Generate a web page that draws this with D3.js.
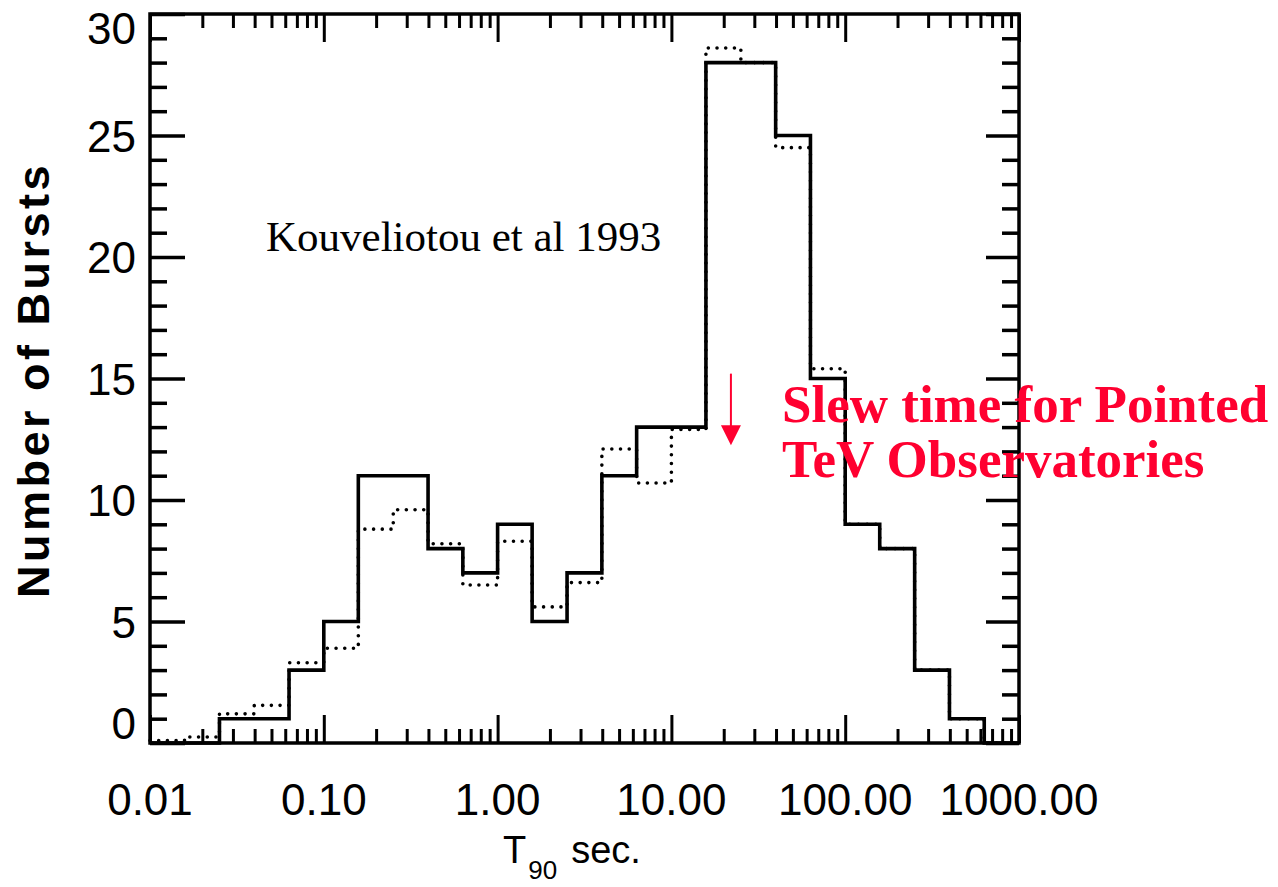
<!DOCTYPE html>
<html>
<head>
<meta charset="utf-8">
<script src="https://cdn.jsdelivr.net/npm/d3@7"></script>
<style>
  html, body { margin: 0; padding: 0; background: #fff; }
  svg { display: block; }
</style>
</head>
<body>
<svg id="chart" width="1278" height="887"></svg>
<script>
// ---- data ----
const binEdges = [0.01, 0.0158, 0.0251, 0.0398, 0.0631, 0.1, 0.158, 0.251, 0.398, 0.631,
                  1, 1.58, 2.51, 3.98, 6.31, 10, 15.8, 25.1, 39.8, 63.1,
                  100, 158, 251, 398, 631, 1000];
const solidCounts  = [0, 0, 1, 1, 3, 5, 11, 11, 8, 7, 9, 5, 7, 11, 13, 13, 28, 28, 25, 15, 9, 8, 3, 1, 0];
const dottedCounts = [0.1, 0.25, 1.2, 1.55, 3.3, 3.9, 8.8, 9.6, 8.2, 6.5, 8.3, 5.6, 6.6, 12.1, 10.7, 12.9, 28.6, 28.0, 24.5, 15.4, 9, 8, 3, 1, 0];
const xTickValues = [0.01, 0.1, 1, 10, 100, 1000];
const xTickLabels = ["0.01", "0.10", "1.00", "10.00", "100.00", "1000.00"];
const yTickValues = [0, 5, 10, 15, 20, 25, 30];
const yTickLabels = ["0", "5", "10", "15", "20", "25", "30"];
const citation = "Kouveliotou et al 1993";
const slewLines = ["Slew time for Pointed", "TeV Observatories"];
const slewTime = 22;          // seconds, where the arrow points
const arrowRange = [15.2, 12.25];

// ---- layout ----
const svg = d3.select("#chart");
const L = 150, R = 1019, T = 14, B = 743;
const x = d3.scaleLog().domain([0.01, 1000]).range([L, R]);
const y = d3.scaleLinear().domain([0, 30]).range([B, T]);

const minorX = [];
for (let e = -2; e < 3; e++) for (let m = 2; m <= 9; m++) minorX.push(m * Math.pow(10, e));
const minorY = d3.range(0, 31, 1).filter(v => v % 5 !== 0);

function styleAxis(g, w) {
  g.select(".domain").remove();
  g.selectAll(".tick line").attr("stroke", "#000").attr("stroke-width", w);
  g.selectAll(".tick text").remove();
}
const axes = svg.append("g");
axes.append("g").attr("transform", `translate(0,${B})`)
  .call(d3.axisBottom(x).tickValues(xTickValues).tickSize(-28).tickFormat("")).call(g => styleAxis(g, 3));
axes.append("g").attr("transform", `translate(0,${B})`)
  .call(d3.axisBottom(x).tickValues(minorX).tickSize(-14).tickFormat("")).call(g => styleAxis(g, 3));
axes.append("g").attr("transform", `translate(0,${T})`)
  .call(d3.axisTop(x).tickValues(xTickValues).tickSize(-28).tickFormat("")).call(g => styleAxis(g, 3));
axes.append("g").attr("transform", `translate(0,${T})`)
  .call(d3.axisTop(x).tickValues(minorX).tickSize(-14).tickFormat("")).call(g => styleAxis(g, 3));
axes.append("g").attr("transform", `translate(${L},0)`)
  .call(d3.axisLeft(y).tickValues(yTickValues).tickSize(-35).tickFormat("")).call(g => styleAxis(g, 3.5));
axes.append("g").attr("transform", `translate(${L},0)`)
  .call(d3.axisLeft(y).tickValues(minorY).tickSize(-17).tickFormat("")).call(g => styleAxis(g, 3.5));
axes.append("g").attr("transform", `translate(${R},0)`)
  .call(d3.axisRight(y).tickValues(yTickValues).tickSize(-33).tickFormat("")).call(g => styleAxis(g, 3.5));
axes.append("g").attr("transform", `translate(${R},0)`)
  .call(d3.axisRight(y).tickValues(minorY).tickSize(-17).tickFormat("")).call(g => styleAxis(g, 3.5));

// ---- histograms ----
function stepPoints(counts) {
  const pts = counts.map((c, i) => [binEdges[i], c]);
  pts.push([binEdges[binEdges.length - 1], counts[counts.length - 1]]);
  return pts;
}
const stepLine = d3.line().x(d => x(d[0])).y(d => y(d[1])).curve(d3.curveStepAfter);

svg.append("path").attr("d", stepLine(stepPoints(dottedCounts)))
  .attr("fill", "none").attr("stroke", "#000").attr("stroke-width", 3.6)
  .attr("stroke-linecap", "round").attr("stroke-dasharray", "0 8.7");
svg.append("path").attr("d", stepLine(stepPoints(solidCounts)))
  .attr("fill", "none").attr("stroke", "#000").attr("stroke-width", 3.6)
  .attr("stroke-linejoin", "miter");

// frame
svg.append("rect").attr("x", L).attr("y", T).attr("width", R - L).attr("height", B - T)
  .attr("fill", "none").attr("stroke", "#000").attr("stroke-width", 3.5);

// ---- tick labels ----
const sans = "'Liberation Sans', Arial, Helvetica, sans-serif";
svg.append("g").selectAll("text").data(xTickValues).join("text")
  .attr("x", d => x(d)).attr("y", 815)
  .attr("text-anchor", "middle").attr("font-family", sans).attr("font-size", 44)
  .text((d, i) => xTickLabels[i]);
svg.append("g").selectAll("text").data(yTickValues).join("text")
  .attr("x", 136).attr("y", (d, i) => y(d) + 16 + (i === 0 ? -20 : (i === yTickValues.length - 1 ? 14 : 0)))
  .attr("text-anchor", "end").attr("font-family", sans).attr("font-size", 44)
  .text((d, i) => yTickLabels[i]);

// axis titles
svg.append("text").attr("transform", `translate(49,380) rotate(-90)`)
  .attr("text-anchor", "middle").attr("font-family", sans).attr("font-weight", "bold")
  .attr("font-size", 45).attr("letter-spacing", 3.5).text("Number of Bursts");
const xt = svg.append("text").attr("x", 503).attr("y", 863)
  .attr("font-family", sans).attr("font-size", 38);
xt.append("tspan").text("T");
xt.append("tspan").attr("font-size", 26).attr("dy", 16).attr("dx", 2).text("90");
xt.append("tspan").attr("dy", -16).attr("dx", 14).text("sec.");

// ---- annotations ----
const serif = "'Liberation Serif', 'Times New Roman', Times, serif";
svg.append("text").attr("x", 266).attr("y", 251)
  .attr("font-family", serif).attr("font-size", 43).text(citation);

const red = "#ff0030";
svg.append("line").attr("x1", x(slewTime)).attr("x2", x(slewTime))
  .attr("y1", y(arrowRange[0])).attr("y2", y(arrowRange[1]) - 18)
  .attr("stroke", red).attr("stroke-width", 2);
svg.append("path")
  .attr("d", `M${x(slewTime) - 10},${y(arrowRange[1]) - 20} L${x(slewTime) + 10},${y(arrowRange[1]) - 20} L${x(slewTime)},${y(arrowRange[1])} Z`)
  .attr("fill", red);
svg.append("g").selectAll("text").data(slewLines).join("text")
  .attr("x", 782).attr("y", (d, i) => 422 + i * 55)
  .attr("font-family", serif).attr("font-weight", "bold").attr("font-size", 53)
  .attr("fill", red).text(d => d);
</script>
</body>
</html>
